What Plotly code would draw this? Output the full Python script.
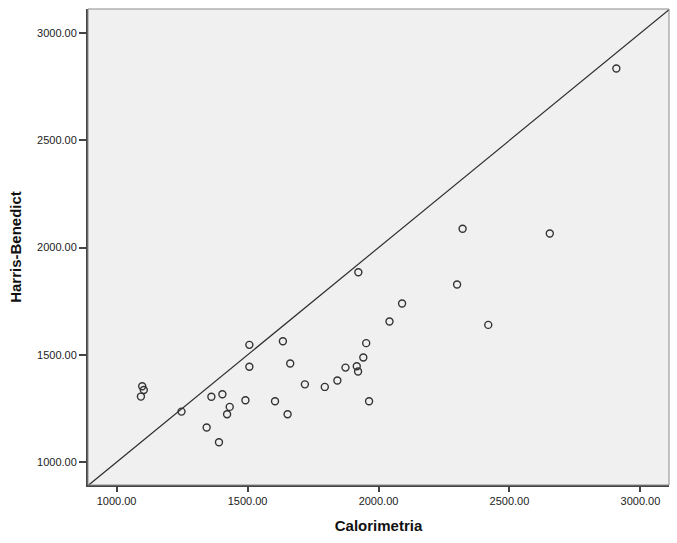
import plotly.graph_objects as go

calorimetria = [1098, 1104, 1093, 1248, 1507, 1507, 1362, 1404, 1432, 1422, 1344, 1391,
                1492, 1605, 1923, 2090, 2042, 1635, 1663, 1953, 1942, 1874, 1917, 1922,
                1843, 1795, 1719, 1653, 1964, 2321, 2654, 2300, 2419, 2908]
harris_benedict = [1354, 1337, 1306, 1236, 1547, 1445, 1305, 1317, 1258, 1224, 1162, 1093,
                   1289, 1284, 1885, 1740, 1656, 1564, 1460, 1555, 1488, 1441, 1447, 1423,
                   1381, 1351, 1363, 1224, 1284, 2088, 2066, 1828, 1640, 2835]
tick_vals = [1000, 1500, 2000, 2500, 3000]
x_range = [891, 3109]
y_range = [894, 3112]

font_family = "Arial, Liberation Sans, sans-serif"

fig = go.Figure()
fig.add_trace(go.Scatter(
    x=x_range, y=x_range, mode="lines",
    line=dict(color="#2e2e2e", width=1.2), hoverinfo="skip", showlegend=False))
fig.add_trace(go.Scatter(
    x=calorimetria, y=harris_benedict, mode="markers",
    marker=dict(symbol="circle-open", size=7, color="#333333", line=dict(width=1.4)),
    showlegend=False))

fig.update_layout(
    width=677, height=543,
    margin=dict(l=88, r=8, t=9, b=58),
    paper_bgcolor="white", plot_bgcolor="#f0f0f0",
    font=dict(family=font_family, size=11, color="#222222"),
    shapes=[dict(type="rect", xref="paper", yref="paper", x0=0, y0=0, x1=1, y1=1,
                 line=dict(color="#8a8a8a", width=1), layer="above")],
)
fig.update_xaxes(
    range=x_range, tickvals=tick_vals, tickformat=".2f",
    showgrid=False, zeroline=False, showline=True, linecolor="#444444", linewidth=2,
    ticks="outside", ticklen=5, tickcolor="#444444", tickwidth=1.5,
    title=dict(text="<b>Calorimetria</b>", font=dict(size=15, color="#111111"), standoff=14),
    automargin=False)
fig.update_yaxes(
    range=y_range, tickvals=tick_vals, tickformat=".2f",
    showgrid=False, zeroline=False, showline=True, linecolor="#444444", linewidth=2,
    ticks="outside", ticklen=7, tickcolor="#444444", tickwidth=1.5,
    title=dict(text="<b>Harris-Benedict</b>", font=dict(size=15, color="#111111"), standoff=12),
    automargin=False)

fig.write_html("out.html")
